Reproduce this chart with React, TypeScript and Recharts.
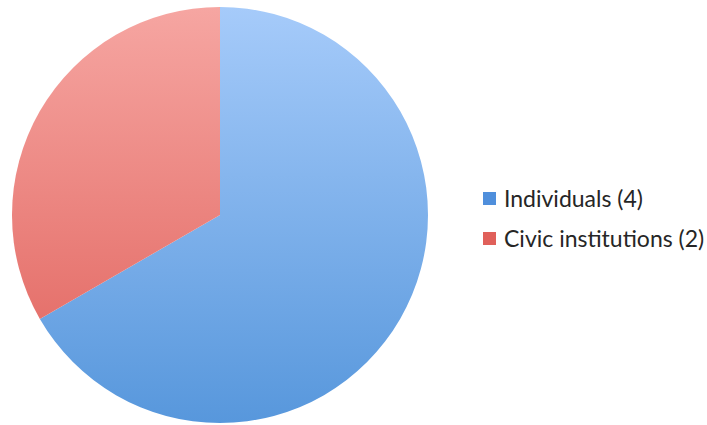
import React from 'react';
import { PieChart, Pie, Cell, Legend } from 'recharts';

const categories = ['Individuals', 'Civic institutions'];
const counts = [4, 2];
const legendLabels = ['Individuals (4)', 'Civic institutions (2)'];

const data = categories.map((name, i) => ({ name, value: counts[i] }));

const GRADS = [
  { id: 'g-ind', top: '#a6cbfa', bottom: '#5797dc', swatch: '#4f8fdc' },
  { id: 'g-civ', top: '#f6a6a2', bottom: '#e0605a', swatch: '#e0605a' },
];

/* ─── LEGEND ─────────────────────────────────────── */
const SideLegend = () => (
  <div style={{ fontFamily: 'Lato, sans-serif', fontSize: '23px', color: '#262626' }}>
    {legendLabels.map((label, i) => (
      <div key={label} style={{ display: 'flex', alignItems: 'center', height: '40px' }}>
        <div style={{ width: '13px', height: '13px', backgroundColor: GRADS[i].swatch, marginRight: '8px', flexShrink: 0 }} />
        <span style={{ whiteSpace: 'nowrap' }}>{label}</span>
      </div>
    ))}
  </div>
);

export default function App() {
  return (
    <div style={{ position: 'absolute', left: 0, top: 0, width: 707, height: 425, background: '#fff' }}>
      <PieChart width={707} height={425} margin={{ top: 0, right: 0, bottom: 0, left: 0 }}>
        <defs>
          {GRADS.map(g => (
            <linearGradient key={g.id} id={g.id} gradientUnits="userSpaceOnUse" x1="0" y1="6" x2="0" y2="424">
              <stop offset="0%" stopColor={g.top} />
              <stop offset="100%" stopColor={g.bottom} />
            </linearGradient>
          ))}
        </defs>
        <Pie
          data={data}
          dataKey="value"
          nameKey="name"
          cx={220}
          cy={215}
          outerRadius={208}
          startAngle={90}
          endAngle={-270}
          stroke="none"
          isAnimationActive={false}
        >
          {data.map((_, i) => <Cell key={i} fill={`url(#${GRADS[i].id})`} />)}
        </Pie>
        <Legend
          layout="vertical"
          content={<SideLegend />}
          wrapperStyle={{ left: 483, top: 178, width: 224 }}
        />
      </PieChart>
    </div>
  );
}
